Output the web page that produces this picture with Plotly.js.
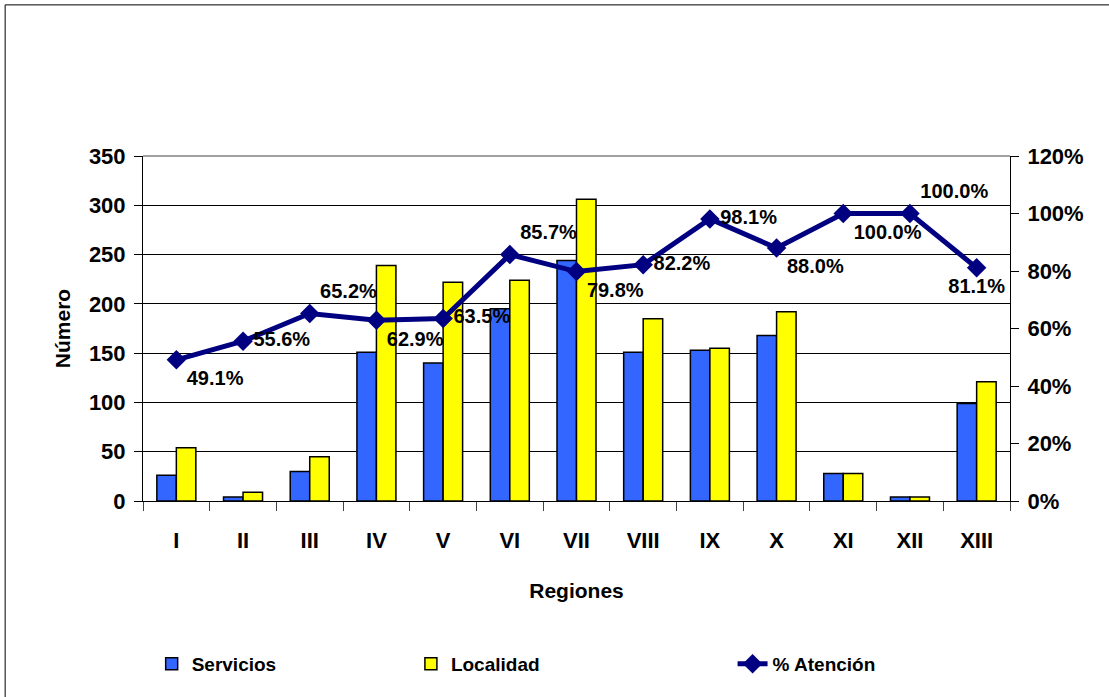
<!DOCTYPE html>
<html>
<head>
<meta charset="utf-8">
<script src="https://cdn.plot.ly/plotly-3.0.1.min.js"></script>
<style>
html,body{margin:0;padding:0;background:#fff;}
#chart{width:1109px;height:697px;}
</style>
</head>
<body>
<div id="chart"></div>
<script>
const regiones = ["I","II","III","IV","V","VI","VII","VIII","IX","X","XI","XII","XIII"];
const servicios = [26, 4, 30, 151, 140, 195, 244, 151, 153, 168, 28, 4, 99];
const localidad = [54, 9, 45, 239, 222, 224, 306, 185, 155, 192, 28, 4, 121];
const atencion = [0.491, 0.556, 0.652, 0.629, 0.635, 0.857, 0.798, 0.822, 0.981, 0.880, 1.000, 1.000, 0.811];
const atencionLabels = ["49.1%","55.6%","65.2%","62.9%","63.5%","85.7%","79.8%","82.2%","98.1%","88.0%","100.0%","100.0%","81.1%"];
const labelPos = ["bottom right","middle right","top right","bottom right","middle right","top right","bottom right","middle right","middle right","bottom right","bottom right","top right","bottom center"];

const FONT = "Liberation Sans, Arial, sans-serif";
const bold = (size) => ({family: FONT, size: size, color: "#000", weight: "bold"});

const traces = [
  {
    type: "bar", name: "Servicios", x: regiones, y: servicios,
    marker: {color: "#3366FF", line: {color: "#000", width: 1.5}},
    legend: "legend", showlegend: true
  },
  {
    type: "bar", name: "Localidad", x: regiones, y: localidad,
    marker: {color: "#FFFF00", line: {color: "#000", width: 1.5}},
    legend: "legend2", showlegend: true
  },
  {
    type: "scatter", mode: "lines+markers+text", name: "% Atención",
    x: regiones, y: atencion, yaxis: "y2",
    line: {color: "#000080", width: 5},
    marker: {symbol: "diamond", size: 15, color: "#000080"},
    text: atencionLabels, textposition: labelPos,
    textfont: bold(20), cliponaxis: false,
    legend: "legend3", showlegend: true
  }
];

const layout = {
  width: 1109, height: 697,
  margin: {l: 143, r: 99, t: 156, b: 196},
  paper_bgcolor: "#fff", plot_bgcolor: "#fff",
  font: {family: FONT, color: "#000"},
  showlegend: true,
  barmode: "group", bargap: 0.415, bargroupgap: 0,
  xaxis: {
    type: "category", range: [-0.5, 12.5], autorange: false,
    tickson: "boundaries", ticks: "outside", ticklen: 9,
    tickcolor: "#444", showline: true, linecolor: "#000", linewidth: 1,
    showgrid: false, tickfont: bold(22), ticklabelstandoff: 20,
    title: {text: "Regiones", font: bold(21), standoff: 30}
  },
  yaxis: {
    range: [0, 350], dtick: 50, ticks: "outside", ticklen: 8, tickcolor: "#000",
    showline: true, linecolor: "#000", linewidth: 1,
    showgrid: true, gridcolor: "#000", gridwidth: 1, zeroline: false,
    tickfont: bold(22), ticklabelstandoff: 4,
    title: {text: "Número", font: bold(21), standoff: 12}
  },
  yaxis2: {
    overlaying: "y", side: "right", range: [0, 1.2], dtick: 0.2, tickformat: ".0%",
    ticks: "outside", ticklen: 8, tickcolor: "#000",
    showline: true, linecolor: "#000", linewidth: 1,
    showgrid: false, zeroline: false, tickfont: bold(22), ticklabelstandoff: 4
  },
  legend:  {x: 0.010, y: -0.472, xanchor: "left", yanchor: "middle", font: bold(19), bgcolor: "rgba(0,0,0,0)"},
  legend2: {x: 0.309, y: -0.472, xanchor: "left", yanchor: "middle", font: bold(19), bgcolor: "rgba(0,0,0,0)"},
  legend3: {x: 0.680, y: -0.472, xanchor: "left", yanchor: "middle", font: bold(19), bgcolor: "rgba(0,0,0,0)"},
  shapes: [
    {type: "rect", xref: "paper", yref: "paper", x0: -0.159, x1: 1.125, y0: -0.6, y1: 1.438,
     line: {color: "#000", width: 1}, fillcolor: "rgba(0,0,0,0)", layer: "below"},
    {type: "line", xref: "paper", yref: "paper", x0: 0, x1: 1, y0: 1, y1: 1,
     line: {color: "#808080", width: 1.5}, layer: "above"}
  ]
};

Plotly.newPlot("chart", traces, layout, {displayModeBar: false, staticPlot: true});
</script>
</body>
</html>
